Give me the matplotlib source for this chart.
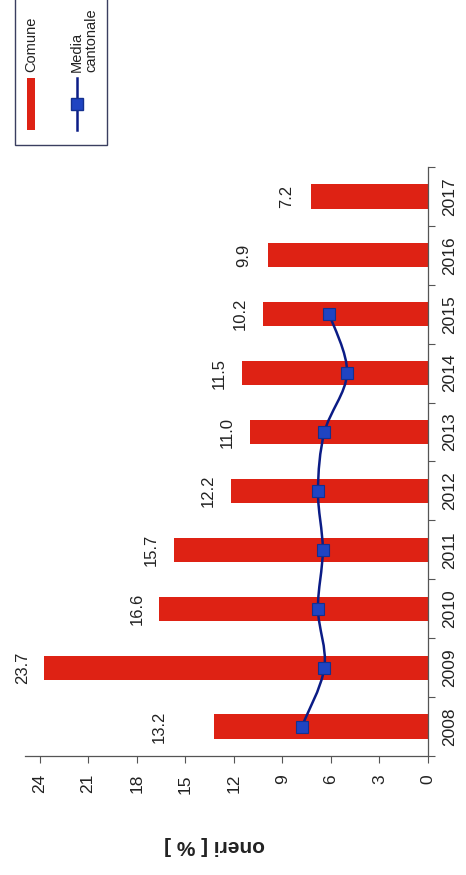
import numpy as np
import matplotlib
matplotlib.use("Agg")
import matplotlib.pyplot as plt
from matplotlib.path import Path
from matplotlib.patches import PathPatch, Rectangle
from matplotlib.lines import Line2D

# ---- data ----
years = ["2008", "2009", "2010", "2011", "2012", "2013", "2014", "2015", "2016", "2017"]
comune = [13.2, 23.7, 16.6, 15.7, 12.2, 11.0, 11.5, 10.2, 9.9, 7.2]
media_cantonale = [7.8, 6.4, 6.8, 6.5, 6.8, 6.4, 5.0, 6.1]
value_ticks = [0, 3, 6, 9, 12, 15, 18, 21, 24]
y_label = "oneri [ % ]"
legend_labels = ["Comune", "Media\ncantonale"]

plt.rcParams['font.family'] = ['Liberation Sans', 'DejaVu Sans']
RED = '#de2214'
NAVY = '#0b1c86'
MARK = '#1f44c2'
TXT = '#222222'

W, H = 466, 875
fig = plt.figure(figsize=(W / 100, H / 100), dpi=100)
fig.patch.set_facecolor('white')

# axes rect in pixels: left 25, right 428, top 167, bottom 756
ax = fig.add_axes([25 / W, (H - 756) / H, (428 - 25) / W, (756 - 167) / H])
ax.set_facecolor('white')

idx = np.arange(len(years))
ax.barh(idx, comune, height=0.41, color=RED, edgecolor='none', zorder=2)

# smoothed line through the cantonal average (Catmull-Rom -> Bezier)
mx = np.array(media_cantonale, dtype=float)
my = idx[:len(mx)].astype(float)
pts = np.column_stack([mx, my])
verts = [tuple(pts[0])]
codes = [Path.MOVETO]
for i in range(len(pts) - 1):
    p0 = pts[i - 1] if i > 0 else pts[i]
    p1 = pts[i]
    p2 = pts[i + 1]
    p3 = pts[i + 2] if i + 2 < len(pts) else pts[i + 1]
    c1 = p1 + (p2 - p0) / 6.0
    c2 = p2 - (p3 - p1) / 6.0
    verts += [tuple(c1), tuple(c2), tuple(p2)]
    codes += [Path.CURVE4, Path.CURVE4, Path.CURVE4]
ax.add_patch(PathPatch(Path(verts, codes), facecolor='none', edgecolor=NAVY,
                       lw=1.8, zorder=3))
ax.plot(mx, my, linestyle='none', marker='s', markersize=8.5,
        markerfacecolor=MARK, markeredgecolor='#14308f', markeredgewidth=0.8,
        zorder=4)

# value labels
label_offsets = [-40, -16, -16, -16, -16, -16, -16, -16, -17, -18]
for i, v in enumerate(comune):
    ax.annotate(f"{v:.1f}", xy=(v, i), xytext=(label_offsets[i], 0),
                textcoords='offset points', rotation=90, ha='center',
                va='center', fontsize=12, color=TXT)

ax.set_xlim(24.9, 0)
ax.set_ylim(-0.5, len(years) - 0.5)

ax.set_xticks(value_ticks)
ax.set_xticklabels([str(t) for t in value_ticks], rotation=90, fontsize=12.5,
                   color=TXT)
ax.tick_params(axis='x', direction='out', length=5, width=0.8, pad=8,
               color='#555555')

ax.yaxis.tick_right()
ax.set_yticks(np.arange(-0.5, len(years), 1.0))
ax.set_yticklabels([])
ax.set_yticks(idx, minor=True)
ax.set_yticklabels(years, minor=True, rotation=90, va='center', ha='left',
                   fontsize=12.5, color=TXT)
ax.tick_params(axis='y', which='major', direction='out', length=5, width=0.8,
               color='#555555')
ax.tick_params(axis='y', which='minor', length=0, pad=10)

for s in ['top', 'left']:
    ax.spines[s].set_visible(False)
for s in ['bottom', 'right']:
    ax.spines[s].set_color('#555555')
    ax.spines[s].set_linewidth(0.9)

fig.text(215 / W, 1 - 845 / H, y_label, rotation=180, ha='center',
         va='center', fontsize=15, fontweight='bold', color=TXT)

# legend drawn by hand (rotated layout)
fig.patches.append(Rectangle((15 / W, 1 - 145 / H), (107 - 15) / W, 160 / H,
                             transform=fig.transFigure, facecolor='white',
                             edgecolor='#3a3f60', lw=1.0))
fig.patches.append(Rectangle((27 / W, 1 - 130 / H), 8 / W, 52 / H,
                             transform=fig.transFigure, facecolor=RED,
                             edgecolor='none'))
fig.lines.append(Line2D([77 / W, 77 / W], [1 - 130 / H, 1 - 78 / H],
                        transform=fig.transFigure, color=NAVY, lw=1.8))
fig.lines.append(Line2D([77 / W], [1 - 104 / H], transform=fig.transFigure,
                        marker='s', markersize=8.5, markerfacecolor=MARK,
                        markeredgecolor='#14308f', linestyle='none'))
fig.text(31 / W, 1 - 72 / H, legend_labels[0], rotation=90, ha='center',
         va='bottom', fontsize=10.5, color=TXT)
fig.text(84 / W, 1 - 72 / H, legend_labels[1], rotation=90, ha='center',
         va='bottom', fontsize=10.5, color=TXT, multialignment='left',
         linespacing=1.0)

fig.savefig('out.png', dpi=100)
